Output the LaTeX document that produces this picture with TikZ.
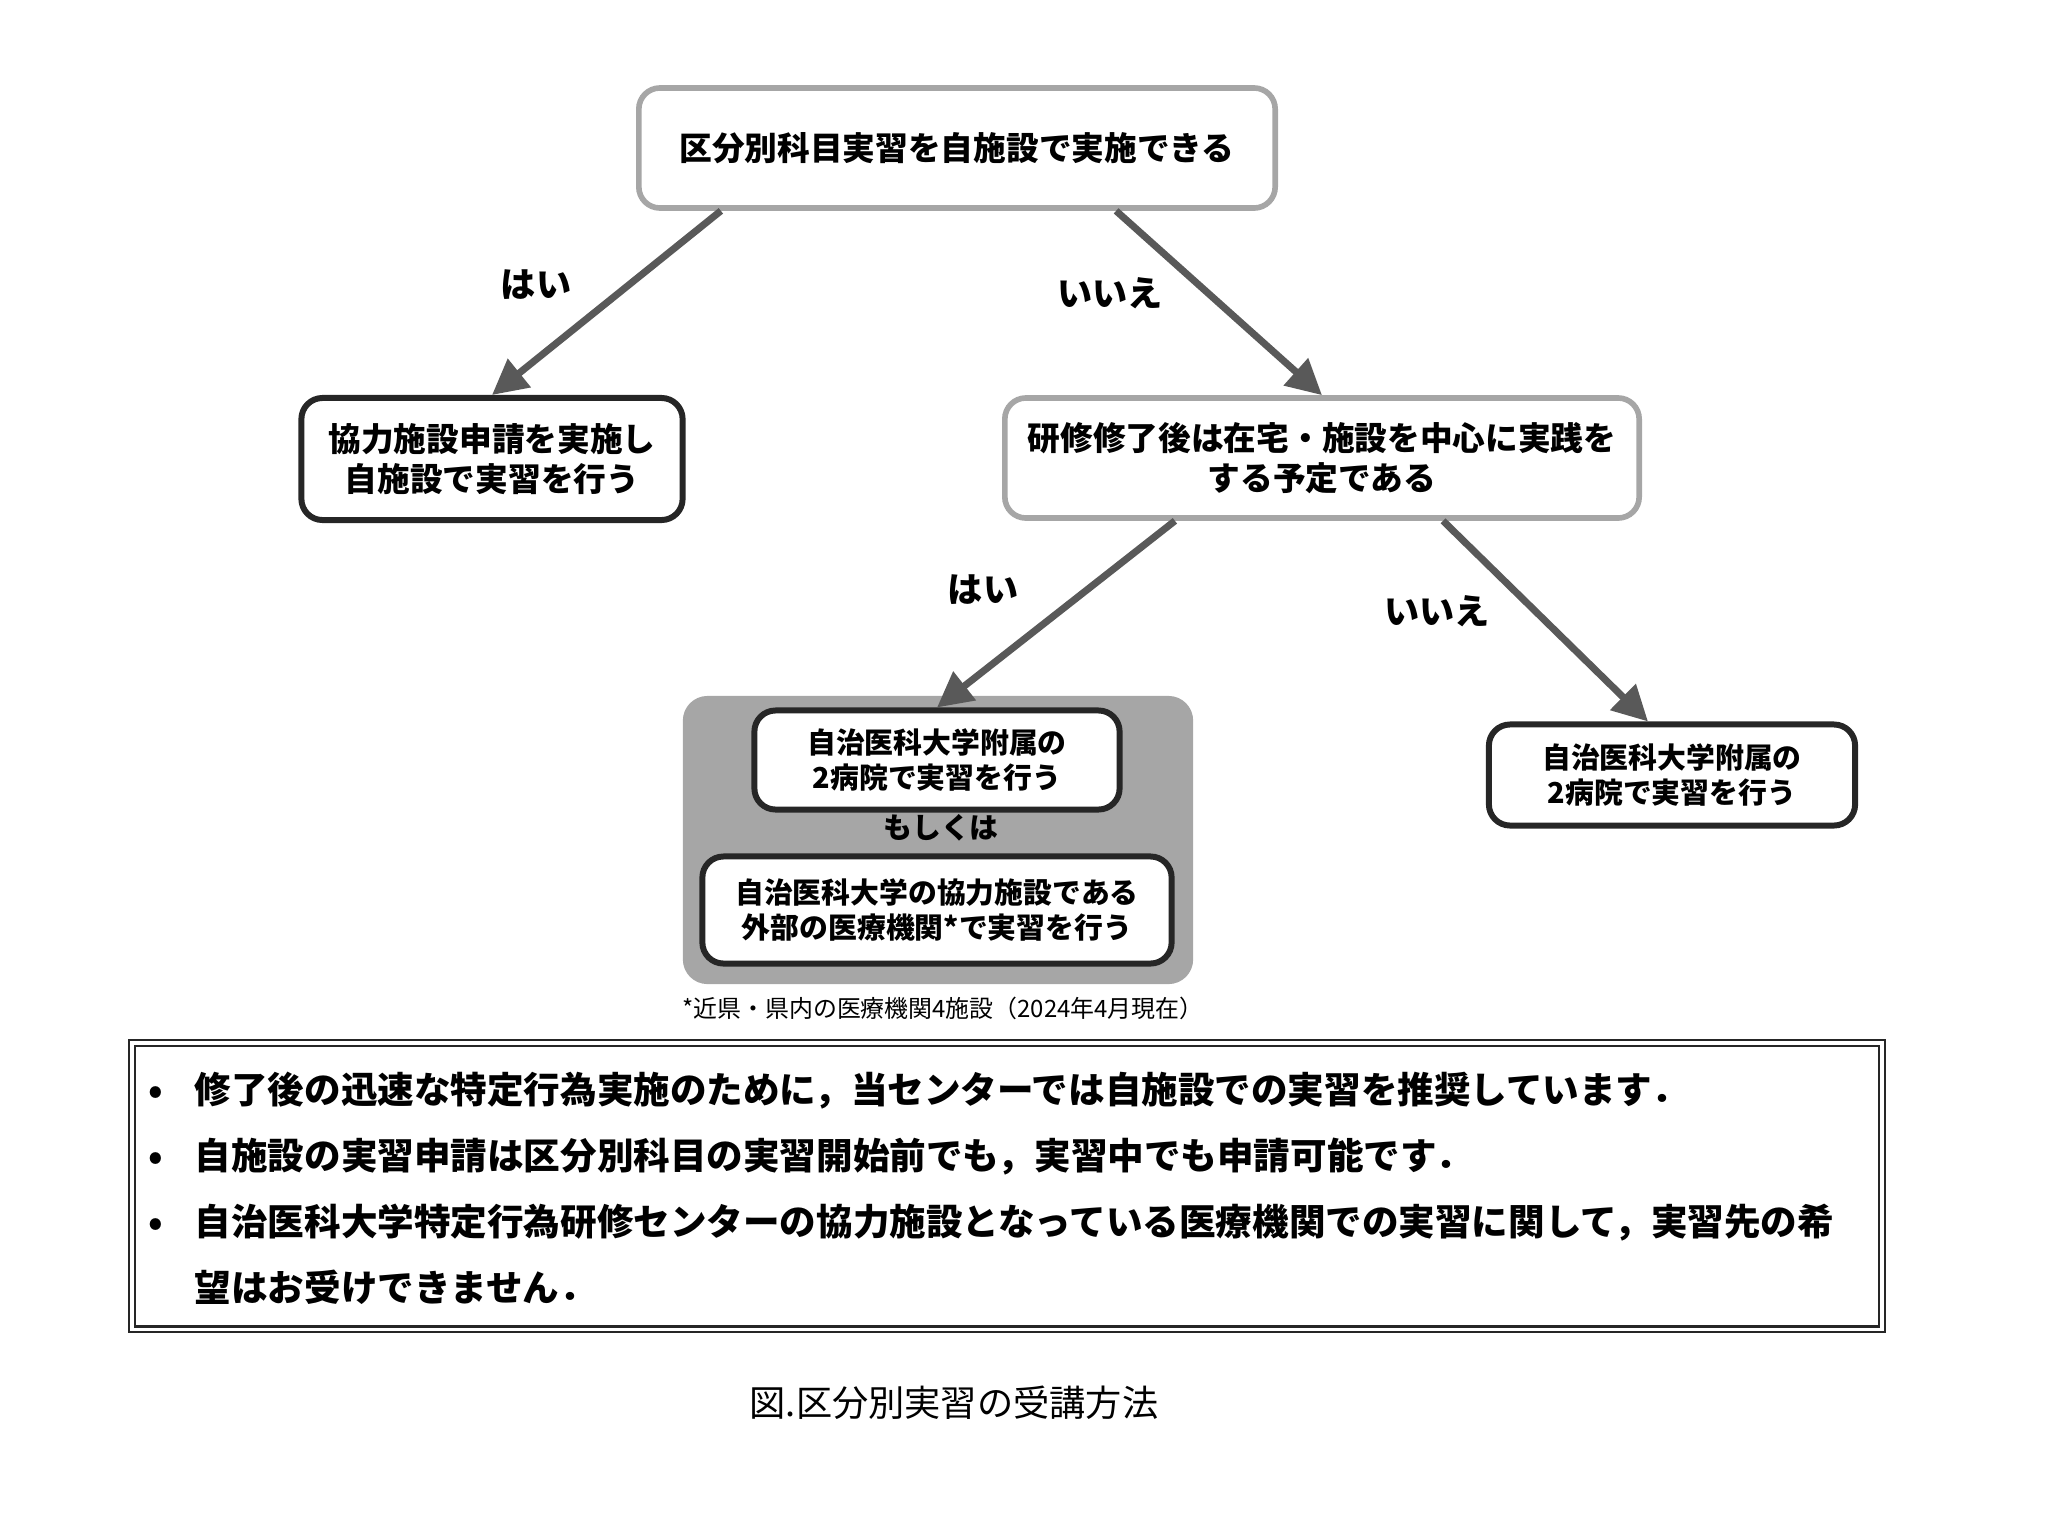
\documentclass[tikz,border=0pt]{standalone}
\usepackage{fontspec}
\setmainfont{Noto Sans CJK JP}
\usetikzlibrary{arrows.meta}
\definecolor{fleche}{HTML}{595959}
\definecolor{cadre}{HTML}{A6A6A6}
\definecolor{encre}{HTML}{262626}
\begin{document}
\begin{tikzpicture}[x=0.01cm, y=-0.01cm]
\tikzstyle{question} = [draw=cadre, line width=1.6pt, rounded corners=6pt, fill=white, align=center, font=\bfseries\fontsize{9.3}{11.3}\selectfont];
\tikzstyle{choix} = [draw=encre, line width=1.7pt, rounded corners=6pt, fill=white, align=center, font=\bfseries\fontsize{9.3}{11.3}\selectfont];
\tikzstyle{petit} = [choix, font=\bfseries\fontsize{8.2}{9.8}\selectfont];
\tikzstyle{reponse} = [font=\bfseries\fontsize{10}{12}\selectfont];
\tikzstyle{lien} = [draw=fleche, line width=2pt, -{Triangle[length=10pt, width=10pt]}];

\useasboundingbox (0,0) rectangle (2048,1536);

% questions
\node[question, minimum width=6.36cm, minimum height=1.20cm] (q1) at (957,148) {区分別科目実習を自施設で実施できる};
\node[question, minimum width=6.34cm, minimum height=1.20cm] (q2) at (1322,458) {研修修了後は在宅・施設を中心に実践を\\する予定である};

% reponses
\node[choix, minimum width=3.81cm, minimum height=1.22cm] (r1) at (492,459) {協力施設申請を実施し\\自施設で実習を行う};
\node[fill=cadre, rounded corners=7pt, minimum width=5.10cm, minimum height=2.88cm] (bloc) at (938,840) {};
\node[petit, minimum width=3.65cm, minimum height=0.99cm] (r2) at (937,760) {自治医科大学附属の\\2病院で実習を行う};
\node[font=\bfseries\fontsize{8.2}{9.8}\selectfont] (ou) at (941,828) {もしくは};
\node[petit, minimum width=4.69cm, minimum height=1.07cm] (r3) at (937,910) {自治医科大学の協力施設である\\外部の医療機関*で実習を行う};
\node[petit, minimum width=3.66cm, minimum height=1.01cm] (r4) at (1672,775) {自治医科大学附属の\\2病院で実習を行う};
\node[font=\fontsize{6.8}{8}\selectfont] (note) at (943,1008) {*近県・県内の医療機関4施設（2024年4月現在）};

% fleches
\draw[lien] ([xshift=-2.36cm]q1.south) -- (r1.north);
\draw[lien] ([xshift=1.59cm]q1.south) -- (q2.north);
\draw[lien] ([xshift=-1.47cm]q2.south) -- (r2.north);
\draw[lien] ([xshift=1.21cm]q2.south) -- ([xshift=-0.24cm]r4.north);
\node[reponse] (oui1) at (536,285) {はい};
\node[reponse] (non1) at (1110,293) {いいえ};
\node[reponse] (oui2) at (983,590) {はい};
\node[reponse] (non2) at (1437,611) {いいえ};

% remarques
\node[draw=encre, double, line width=0.75pt, double distance=0.9pt, minimum width=17.49cm, minimum height=2.86cm] (boite) at (1007,1186) {};
\node[anchor=west, inner sep=0pt, font=\bfseries\fontsize{10.4}{18.8}\selectfont] (texte) at (148,1189) {%
\begin{tabular}{@{}p{0.46cm}@{}p{16.8cm}@{}}
• & 修了後の迅速な特定行為実施のために，当センターでは自施設での実習を推奨しています．\\
• & 自施設の実習申請は区分別科目の実習開始前でも，実習中でも申請可能です．\\
• & 自治医科大学特定行為研修センターの協力施設となっている医療機関での実習に関して，実習先の希\\
 & 望はお受けできません．
\end{tabular}};

\node[font=\fontsize{10.3}{12}\selectfont] (titre) at (954,1403) {図.区分別実習の受講方法};
\end{tikzpicture}
\end{document}
